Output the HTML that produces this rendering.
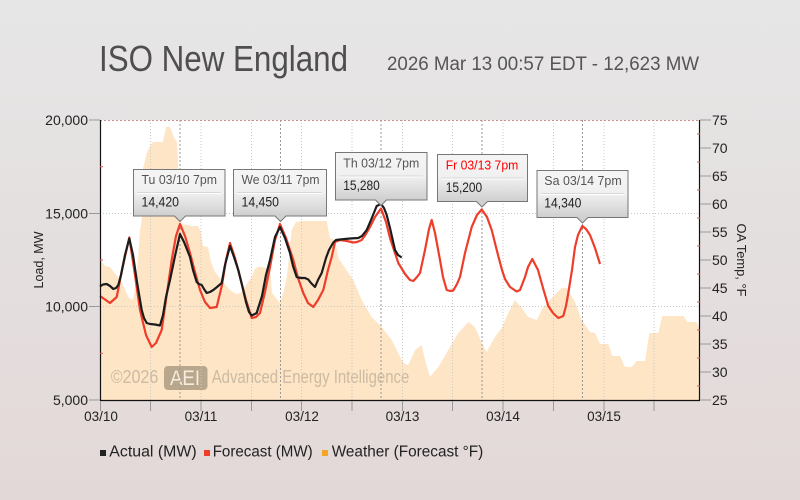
<!DOCTYPE html>
<html><head><meta charset="utf-8"><style>
html,body{margin:0;padding:0;width:800px;height:500px;overflow:hidden}
svg{display:block}
text{font-family:"Liberation Sans",sans-serif}
</style></head><body>
<svg width="800" height="500" viewBox="0 0 800 500" xmlns="http://www.w3.org/2000/svg">
<defs>
<linearGradient id="bg" x1="0" y1="0" x2="0" y2="1"><stop offset="0" stop-color="#e6e6e6"/><stop offset="1" stop-color="#e3d8d8"/></linearGradient>
<linearGradient id="tt" x1="0" y1="0" x2="0" y2="1"><stop offset="0" stop-color="#f5f5f5"/><stop offset="0.5" stop-color="#f0f0f0"/><stop offset="1" stop-color="#cfcfcf"/></linearGradient>
</defs>
<rect width="800" height="500" fill="url(#bg)"/>
<rect x="100" y="120" width="600" height="280" fill="#fff"/>
<!-- weather area -->
<polygon fill="#fee5c6" points="100,400 100,251 102,262 105,266 110,267 116,275 121.7,282 126,292 128.5,297 131.7,300 133.5,298 136,280 138.3,255 140,230 141.7,220 143.3,167 147,152 150,146 153,142 163,142 166,127 170,127 174,138 177,142 178,162 180,215 182,224 192,226 198,226 201,232 203,246 208,247 211,262 215,272 223,282 230,290 236,294 241,293 246.7,284 251.7,277 255,269 258,267 263,267 270,270 272,293 280,303 284,290 287,276 291.7,230 296,222 301,221 326.7,221 330,238 335,240 338.3,258 345,268 353.3,280 361.7,300 371.7,317 381.7,327 391.7,340 401.7,360 405,364 408.3,365 412,357 415,350 421.7,345 425,360 430,377 434,372 438.3,367 448.3,350 458.3,333 468.3,322 475,327 481.7,343 486.7,352 491,344 495,337 501.7,328 508.3,313 515,300 521.7,308 528.3,317 536.7,320 543.3,307 551.7,298 561.7,288 566.7,288 575,302 581.7,320 590,332 595,333 600,344 608.3,344 612.3,356 620,356 625,367 631.7,367 636.7,361 645,361 649.3,333 658.3,333 662.3,316 683.3,316 687.3,322 696.7,322 700,330 700,400"/>
<!-- watermark -->
<text x="110.7" y="383" font-size="18" fill="#cbbba3" textLength="47.6" lengthAdjust="spacingAndGlyphs">©2026</text>
<rect x="164" y="366" width="43.5" height="24" rx="4" fill="#b8a78c"/>
<text x="170" y="385" font-size="21" fill="#f7ecdc" textLength="30" lengthAdjust="spacingAndGlyphs">AEI</text>
<text x="211.7" y="383" font-size="18" fill="#cbbba3" textLength="197.6" lengthAdjust="spacingAndGlyphs">Advanced Energy Intelligence</text>
<!-- grid -->
<g stroke="#c8c8c8" stroke-width="1" stroke-dasharray="1,2" fill="none">
<line x1="100" y1="213.5" x2="700" y2="213.5"/>
<line x1="100" y1="306.5" x2="700" y2="306.5"/>
<line x1="150.5" y1="120" x2="150.5" y2="400"/>
<line x1="201" y1="120" x2="201" y2="400"/>
<line x1="251.5" y1="120" x2="251.5" y2="400"/>
<line x1="301.5" y1="120" x2="301.5" y2="400"/>
<line x1="352" y1="120" x2="352" y2="400"/>
<line x1="402.5" y1="120" x2="402.5" y2="400"/>
<line x1="452.5" y1="120" x2="452.5" y2="400"/>
<line x1="503" y1="120" x2="503" y2="400"/>
<line x1="553.5" y1="120" x2="553.5" y2="400"/>
<line x1="604" y1="120" x2="604" y2="400"/>
<line x1="654" y1="120" x2="654" y2="400"/>
</g>
<g stroke="#999" stroke-width="1" stroke-dasharray="2,2" fill="none">
<line x1="180" y1="120" x2="180" y2="400"/>
<line x1="280.5" y1="120" x2="280.5" y2="400"/>
<line x1="381" y1="120" x2="381" y2="400"/>
<line x1="482" y1="120" x2="482" y2="400"/>
<line x1="582.5" y1="120" x2="582.5" y2="400"/>
</g>
<line x1="100" y1="120.5" x2="700" y2="120.5" stroke="#d08a8a" stroke-dasharray="2,2"/>
<!-- forecast -->
<polyline fill="none" stroke="#ee3d2a" stroke-width="2.2" stroke-linejoin="round" points="100,296 110,303 116.7,297 122,270 129.3,237.5 135,275 140,310 146,335 151.7,347 156,343 161.7,330 166,300 171.7,260 176,236 180,224 185,236 190,253 195,272 200,290 205,302 210,308 216.7,307 222,285 226,260 230,243 235,258 240,277 246,300 251.7,318 256,317 260,313 265,292 270,267 275,240 280,224 286,238 293.3,260 298,278 303.3,293 308,303 313.3,307 318,300 323.3,290 328,270 331.7,257 335,242 340,240 347,241 353.3,242.5 357,242 361.7,240 366,234 370,227 375,217 381,208.5 386,222 390,238 395,253 398.3,263 405,274 410,280 413.3,281 417,277 420,273 425,250 429,229 431.7,220 433,225 435,233 440,260 443,277 446.7,290 450,291 453.3,290.5 457,284 460,277 465,253 471.7,227 477,215 481.7,209.5 487,217 491.7,230 498,255 502,270 505,279 510,287 516.7,291.5 520,290 525,277 528,267 532.3,259 538,270 543,288 548.3,306 553,313 558.3,318 563.3,316 566,306 568.3,293 572,270 575,247 578,235 582.3,226 586,229 590,235 595,248 600,264"/>
<!-- actual -->
<polyline fill="none" stroke="#1c1c1c" stroke-width="2.2" stroke-linejoin="round" points="100,286.5 103,284.5 106.7,284 110,286 113.3,289 116,288 118.3,285 121,275 125,255 129.3,238.5 133,255 137,282 141.7,310 144,318 146.7,323 150,324 155,324.5 160,325.5 163,315 166,297 170,280 175,256 180,234 184,242 190,257 193,270 196.7,282 199,284 201.7,285 204,289 206.7,293 210,292 213.3,290 217,287 221.7,283 225,265 230,246 234,257 238.3,270 242,285 246,302 249,312 251.7,315.5 256.7,313 262,296 266,275 270,260 275,237 280,227 285,238 290,253 293,266 296.7,277 301,278 305,278 308.3,279.5 311,283 315,287 318,280 321.7,273 326,258 329,250 333.3,242.5 336,240 340,239.5 350,238.5 358.3,238 362,236 366.7,230 371,220 376.7,206 381,204 384,208 386.7,215 390,228 395,250 398,255 401.7,257.5"/>
<!-- axes -->
<line x1="100.5" y1="120" x2="100.5" y2="400" stroke="#111" stroke-width="1.2"/>
<line x1="699.5" y1="120" x2="699.5" y2="400" stroke="#111" stroke-width="1.2"/>
<line x1="100" y1="400.5" x2="700" y2="400.5" stroke="#111" stroke-width="1.2"/>
<g stroke="#999" stroke-width="1">
<line x1="89" y1="120" x2="100" y2="120"/><line x1="89" y1="213.5" x2="100" y2="213.5"/><line x1="89" y1="306.5" x2="100" y2="306.5"/><line x1="89" y1="400" x2="100" y2="400"/>
<line x1="700" y1="120" x2="711" y2="120"/><line x1="700" y1="148" x2="711" y2="148"/><line x1="700" y1="176" x2="711" y2="176"/><line x1="700" y1="204" x2="711" y2="204"/><line x1="700" y1="232" x2="711" y2="232"/><line x1="700" y1="260" x2="711" y2="260"/><line x1="700" y1="288" x2="711" y2="288"/><line x1="700" y1="316" x2="711" y2="316"/><line x1="700" y1="344" x2="711" y2="344"/><line x1="700" y1="372" x2="711" y2="372"/><line x1="700" y1="400" x2="711" y2="400"/>
<line x1="100.5" y1="401" x2="100.5" y2="411"/><line x1="150.5" y1="401" x2="150.5" y2="411"/><line x1="201" y1="401" x2="201" y2="411"/><line x1="251.5" y1="401" x2="251.5" y2="411"/><line x1="301.5" y1="401" x2="301.5" y2="411"/><line x1="352" y1="401" x2="352" y2="411"/><line x1="402.5" y1="401" x2="402.5" y2="411"/><line x1="452.5" y1="401" x2="452.5" y2="411"/><line x1="503" y1="401" x2="503" y2="411"/><line x1="553.5" y1="401" x2="553.5" y2="411"/><line x1="604" y1="401" x2="604" y2="411"/><line x1="654" y1="401" x2="654" y2="411"/>
</g>
<g stroke="#e05555" stroke-width="1">
<line x1="100" y1="166.7" x2="103" y2="166.7"/><line x1="100" y1="260" x2="103" y2="260"/><line x1="100" y1="353.3" x2="103" y2="353.3"/>
<line x1="697" y1="134" x2="700" y2="134"/><line x1="697" y1="162" x2="700" y2="162"/><line x1="697" y1="190" x2="700" y2="190"/><line x1="697" y1="218" x2="700" y2="218"/><line x1="697" y1="246" x2="700" y2="246"/><line x1="697" y1="274" x2="700" y2="274"/><line x1="697" y1="302" x2="700" y2="302"/><line x1="697" y1="330" x2="700" y2="330"/><line x1="697" y1="358" x2="700" y2="358"/><line x1="697" y1="386" x2="700" y2="386"/>
</g>
<!-- left labels -->
<g font-size="14" fill="#222" text-anchor="end">
<text x="88" y="125">20,000</text><text x="88" y="218.5">15,000</text><text x="88" y="311.5">10,000</text><text x="88" y="405">5,000</text>
</g>
<g font-size="14" fill="#222">
<text x="712" y="125">75</text><text x="712" y="153">70</text><text x="712" y="181">65</text><text x="712" y="209">60</text><text x="712" y="237">55</text><text x="712" y="265">50</text><text x="712" y="293">45</text><text x="712" y="321">40</text><text x="712" y="349">35</text><text x="712" y="377">30</text><text x="712" y="405">25</text>
</g>
<g font-size="13.5" fill="#222" text-anchor="middle">
<text x="101" y="421">03/10</text><text x="201" y="421">03/11</text><text x="302" y="421">03/12</text><text x="402.5" y="421">03/13</text><text x="503" y="421">03/14</text><text x="604" y="421">03/15</text>
</g>
<text transform="translate(43,260) rotate(-90)" font-size="13" fill="#222" text-anchor="middle" textLength="57" lengthAdjust="spacingAndGlyphs">Load, MW</text>
<text transform="translate(737,260) rotate(90)" font-size="13" fill="#222" text-anchor="middle" textLength="73" lengthAdjust="spacingAndGlyphs">OA Temp, °F</text>
<!-- title -->
<text x="99" y="71" font-size="36" fill="#4f4f4f" textLength="249" lengthAdjust="spacingAndGlyphs">ISO New England</text>
<text x="387" y="70" font-size="19" fill="#555" textLength="312" lengthAdjust="spacingAndGlyphs">2026 Mar 13 00:57 EDT - 12,623 MW</text>
<!-- legend -->
<rect x="100" y="450" width="6" height="6" fill="#222"/>
<text x="109.3" y="456.5" font-size="15.5" fill="#222" textLength="87.4" lengthAdjust="spacingAndGlyphs">Actual (MW)</text>
<rect x="204" y="450" width="6" height="6" fill="#ee3d2a"/>
<text x="212.7" y="456.5" font-size="15.5" fill="#222" textLength="100" lengthAdjust="spacingAndGlyphs">Forecast (MW)</text>
<rect x="322" y="450" width="6" height="6" fill="#f5a623"/>
<text x="331.7" y="456.5" font-size="15.5" fill="#222" textLength="151.6" lengthAdjust="spacingAndGlyphs">Weather (Forecast °F)</text>
<!-- tooltips -->
<g>
<rect x="133.5" y="169.5" width="91.5" height="46.5" fill="url(#tt)" stroke="#777"/>
<polygon points="174.5,215.4 180,221 185.5,215.4" fill="#d0d0d0"/>
<polyline points="174.5,216 180,221.5 185.5,216" fill="none" stroke="#777"/>
<line x1="137" y1="192.5" x2="221" y2="192.5" stroke="#d8d8d8"/><line x1="137" y1="193.5" x2="221" y2="193.5" stroke="#fff"/>
<text x="141.5" y="184" font-size="12.5" fill="#555" textLength="75.5" lengthAdjust="spacingAndGlyphs">Tu 03/10 7pm</text>
<text x="141.5" y="206.5" font-size="13.5" fill="#222" textLength="37.5" lengthAdjust="spacingAndGlyphs">14,420</text>
</g>
<g>
<rect x="233.5" y="169.5" width="93" height="46.5" fill="url(#tt)" stroke="#777"/>
<polygon points="275,215.4 280.5,221 286,215.4" fill="#d0d0d0"/>
<polyline points="275,216 280.5,221.5 286,216" fill="none" stroke="#777"/>
<line x1="237" y1="192.5" x2="322" y2="192.5" stroke="#d8d8d8"/><line x1="237" y1="193.5" x2="322" y2="193.5" stroke="#fff"/>
<text x="241.5" y="184" font-size="12.5" fill="#555" textLength="78" lengthAdjust="spacingAndGlyphs">We 03/11 7pm</text>
<text x="241.5" y="206.5" font-size="13.5" fill="#222" textLength="37.5" lengthAdjust="spacingAndGlyphs">14,450</text>
</g>
<g>
<rect x="335.5" y="152.5" width="91.5" height="47.5" fill="url(#tt)" stroke="#777"/>
<polygon points="375.5,199.4 381,205 386.5,199.4" fill="#d0d0d0"/>
<polyline points="375.5,200 381,205.5 386.5,200" fill="none" stroke="#777"/>
<line x1="339" y1="176" x2="423" y2="176" stroke="#d8d8d8"/><line x1="339" y1="177" x2="423" y2="177" stroke="#fff"/>
<text x="343.3" y="167.5" font-size="12.5" fill="#555" textLength="76" lengthAdjust="spacingAndGlyphs">Th 03/12 7pm</text>
<text x="343.3" y="190" font-size="13.5" fill="#222" textLength="36.5" lengthAdjust="spacingAndGlyphs">15,280</text>
</g>
<g>
<rect x="437.5" y="154.5" width="90" height="47" fill="url(#tt)" stroke="#777"/>
<polygon points="476.5,201 482,206.5 487.5,201" fill="#d0d0d0"/>
<polyline points="476.5,201.5 482,207 487.5,201.5" fill="none" stroke="#777"/>
<line x1="441" y1="178" x2="524" y2="178" stroke="#d8d8d8"/><line x1="441" y1="179" x2="524" y2="179" stroke="#fff"/>
<text x="445.7" y="169.5" font-size="12.5" fill="#ff0000" textLength="72.6" lengthAdjust="spacingAndGlyphs">Fr 03/13 7pm</text>
<text x="445.7" y="192" font-size="13.5" fill="#222" textLength="36.5" lengthAdjust="spacingAndGlyphs">15,200</text>
</g>
<g>
<rect x="537" y="170.5" width="91" height="47" fill="url(#tt)" stroke="#777"/>
<polygon points="577,217 582.5,222.5 588,217" fill="#d0d0d0"/>
<polyline points="577,217.5 582.5,223 588,217.5" fill="none" stroke="#777"/>
<line x1="541" y1="193.5" x2="624" y2="193.5" stroke="#d8d8d8"/><line x1="541" y1="194.5" x2="624" y2="194.5" stroke="#fff"/>
<text x="544.3" y="185" font-size="12.5" fill="#555" textLength="77.4" lengthAdjust="spacingAndGlyphs">Sa 03/14 7pm</text>
<text x="544.3" y="207.5" font-size="13.5" fill="#222" textLength="37" lengthAdjust="spacingAndGlyphs">14,340</text>
</g>
</svg>
</body></html>
